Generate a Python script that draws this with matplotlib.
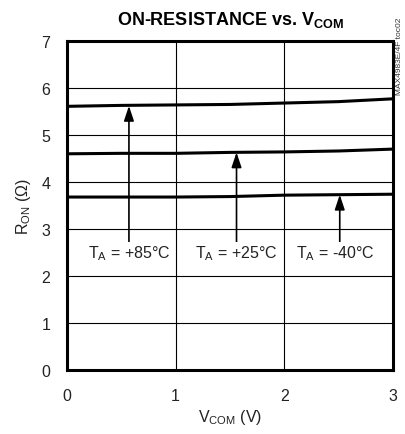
import matplotlib.pyplot as plt

plt.rcParams['font.family'] = ['Liberation Sans Narrow', 'Liberation Sans', 'DejaVu Sans']

vcom = [0, 0.5, 1.0, 1.5, 2.0, 2.5, 3.0]
r_85 = [5.61, 5.63, 5.64, 5.65, 5.68, 5.71, 5.77]
r_25 = [4.60, 4.61, 4.61, 4.63, 4.64, 4.66, 4.70]
r_m40 = [3.68, 3.68, 3.68, 3.69, 3.72, 3.73, 3.74]

labels = ['T$_\\mathregular{A}$ = +85°C', 'T$_\\mathregular{A}$ = +25°C', 'T$_\\mathregular{A}$ = -40°C']
arrow_x = [0.57, 1.56, 2.51]
arrow_tip = [5.62, 4.63, 3.73]
label_x = [0.57, 1.56, 2.47]

fig = plt.figure(figsize=(4.06, 4.35), dpi=100)
ax = fig.add_axes([67 / 406, 64 / 435, 326 / 406, 329 / 435])

for r in (r_85, r_25, r_m40):
    ax.plot(vcom, r, color='black', lw=2.2)

for xa, tip, xl, lab in zip(arrow_x, arrow_tip, label_x, labels):
    ax.annotate('', xy=(xa, tip), xytext=(xa, 2.7),
                arrowprops=dict(arrowstyle='-|>,head_length=0.9,head_width=0.3',
                                color='black', lw=1.2, shrinkA=0, shrinkB=0))
    ax.text(xl, 2.5, lab, ha='center', va='center', fontsize=11.5, color='#222222',
            bbox=dict(facecolor='white', edgecolor='none', pad=1))

ax.set_xlim(0, 3)
ax.set_ylim(0, 7)
ax.set_xticks([0, 1, 2, 3])
ax.set_yticks(range(8))
ax.grid(color='black', lw=0.8)
ax.tick_params(length=0, labelsize=11.5, labelcolor='#222222')
ax.tick_params(axis='x', pad=13)
ax.tick_params(axis='y', pad=12)
for s in ax.spines.values():
    s.set_linewidth(2.2)

ax.set_xlabel('V$_\\mathregular{COM}$ (V)', fontsize=11.5, color='#222222', labelpad=3)
ax.set_ylabel('R$_\\mathregular{ON}$ (Ω)', fontsize=11.5, color='#222222', labelpad=6)
ax.set_title('ON-RESISTANCE vs. V$_\\mathregular{COM}$', fontsize=13, fontweight='bold', pad=12)
fig.text(0.985, 0.87, 'MAX4983E/4F toc02', rotation=90, fontsize=6, ha='center', va='center',
         color='#333333')

fig.savefig('out.png', dpi=100)
